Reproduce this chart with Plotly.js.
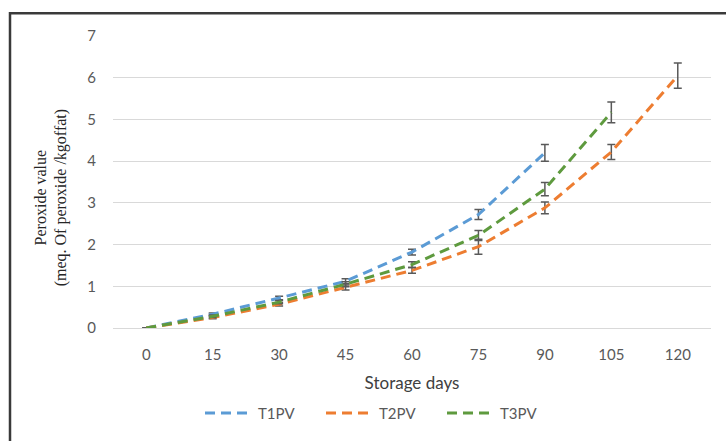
<!DOCTYPE html>
<html>
<head>
<meta charset="utf-8">
<script src="https://cdn.plot.ly/plotly-3.0.1.min.js"></script>
<style>
  html, body { margin: 0; padding: 0; background: #fff; }
  #chart { width: 726px; height: 441px; }
</style>
</head>
<body>
<div id="chart"></div>
<script>
// Data
const days = ["0", "15", "30", "45", "60", "75", "90", "105", "120"];
const seriesNames = ["T1PV", "T2PV", "T3PV"];
const t1pv = [0, 0.33, 0.72, 1.12, 1.82, 2.72, 4.2];
const t1err = [0, 0.03, 0.04, 0.06, 0.07, 0.12, 0.2];
const t2pv = [0, 0.25, 0.57, 0.97, 1.38, 1.95, 2.88, 4.22, 6.05];
const t2err = [0, 0.03, 0.04, 0.06, 0.07, 0.18, 0.14, 0.18, 0.3];
const t3pv = [0, 0.28, 0.62, 1.05, 1.52, 2.22, 3.33, 5.17];
const t3err = [0, 0.03, 0.04, 0.06, 0.07, 0.12, 0.16, 0.25];
const yTicks = [0, 1, 2, 3, 4, 5, 6, 7];

const colors = ["#5B9BD5", "#ED7D31", "#5E9A3E"];
const values = [t1pv, t2pv, t3pv];
const errs = [t1err, t2err, t3err];

const traces = seriesNames.map((name, i) => ({
  type: "scatter",
  mode: "lines",
  name: name,
  x: days.slice(0, values[i].length),
  y: values[i],
  line: { color: colors[i], width: 3, dash: "10px,6px" },
  error_y: {
    type: "data",
    array: errs[i],
    symmetric: true,
    visible: true,
    color: "#595959",
    thickness: 1.5,
    width: 4
  }
}));

const W = 726, H = 441;
const mL = 113, mR = 15, mT = 36, mB = 110;
const pw = W - mL - mR, ph = H - mT - mB;
const px = v => (v - mL) / pw;
const py = v => (H - mB - v) / ph;

const layout = {
  width: W,
  height: H,
  margin: { l: mL, r: mR, t: mT, b: mB, pad: 0 },
  paper_bgcolor: "#ffffff",
  plot_bgcolor: "#ffffff",
  font: { family: "Lato, 'Open Sans', sans-serif", size: 14, color: "#595959" },
  showlegend: true,
  xaxis: {
    type: "category",
    categoryorder: "array",
    categoryarray: days,
    tickvals: days,
    ticktext: days,
    showgrid: false,
    zeroline: false,
    showline: false,
    ticks: "",
    ticklabelstandoff: 16,
    tickfont: { family: "Lato, sans-serif", size: 15, color: "#595959" },
    title: { text: "Storage days", font: { family: "Lato, sans-serif", size: 17, color: "#404040" }, standoff: 15 },
    range: [-0.5, 8.5],
    fixedrange: true
  },
  yaxis: {
    range: [0, 7],
    tickvals: yTicks,
    ticktext: yTicks.map(String),
    showgrid: true,
    gridcolor: "#d9d9d9",
    gridwidth: 1,
    zeroline: true,
    zerolinecolor: "#d9d9d9",
    zerolinewidth: 1,
    showline: false,
    ticks: "",
    ticklabelstandoff: 16,
    tickfont: { family: "Lato, sans-serif", size: 15, color: "#595959" },
    fixedrange: true
  },
  legend: {
    orientation: "h",
    x: px(200),
    xanchor: "left",
    y: py(417),
    yanchor: "middle",
    itemwidth: 48,
    entrywidth: 58,
    entrywidthmode: "pixels",
    font: { family: "Lato, sans-serif", size: 15, color: "#595959" },
    bgcolor: "rgba(0,0,0,0)"
  },
  annotations: [{
    xref: "paper", yref: "paper",
    x: px(51), y: py(200),
    xanchor: "center", yanchor: "middle",
    text: "Peroxide value<br>(meq. Of peroxide /kgoffat)",
    textangle: -90,
    showarrow: false,
    font: { family: "'Liberation Serif', serif", size: 16, color: "#262626" }
  }],
  shapes: [{
    type: "rect",
    xref: "paper", yref: "paper",
    x0: px(10), x1: px(760),
    y0: py(470), y1: py(13),
    line: { color: "#3a3a3a", width: 2.5 },
    fillcolor: "rgba(0,0,0,0)",
    layer: "above"
  }]
};

Plotly.newPlot("chart", traces, layout, { displayModeBar: false, staticPlot: true });
</script>
</body>
</html>
